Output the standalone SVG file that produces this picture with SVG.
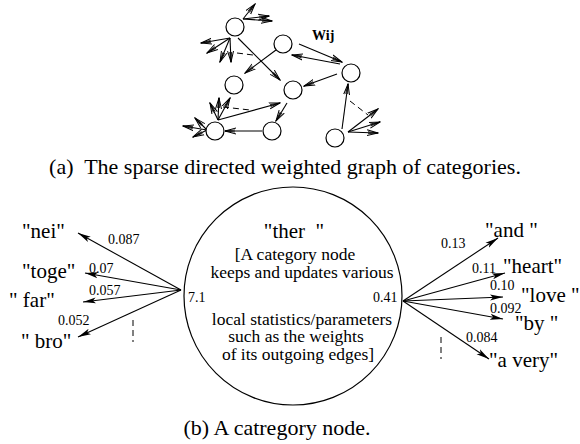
<svg xmlns="http://www.w3.org/2000/svg" width="580" height="444" viewBox="0 0 580 444" font-family="'Liberation Serif', 'DejaVu Serif', serif">
  <style>
    .t { font-family: "Liberation Serif", "DejaVu Serif", serif; fill: #000; }
    .node { fill: #fff; stroke: #000; stroke-width: 1.2; }
    .tedge { stroke: #000; stroke-width: 1.1; fill: none; marker-end: url(#openHead); }
    .bedge { stroke: #000; stroke-width: 1.1; fill: none; marker-end: url(#solidHead); }
    .dash { stroke: #000; stroke-width: 1; stroke-dasharray: 6 4; fill: none; }
    .cap { font-size: 22px; }
    .word { font-size: 21px; white-space: pre; }
    .inner { font-size: 17.5px; text-anchor: middle; }
    .wt { font-size: 14px; }
  </style>
  <defs>
    <marker id="openHead" viewBox="0 0 12 8" refX="11" refY="4" markerWidth="12" markerHeight="8" markerUnits="userSpaceOnUse" orient="auto">
      <path d="M0,1 L11,4 L0,7" fill="none" stroke="#000" stroke-width="1"/>
      <path d="M1,3 L11,4 L1,5" fill="none" stroke="#000" stroke-width="0.8"/>
    </marker>
    <marker id="solidHead" viewBox="0 0 14 8" refX="13" refY="4" markerWidth="14" markerHeight="8" markerUnits="userSpaceOnUse" orient="auto">
      <path d="M0,1 L13,4 L0,7 L3,4 z" fill="#000"/>
    </marker>
  </defs>

  <!-- (a) sparse directed weighted graph -->
  <g id="graph-edges">
    <!-- node A fan-out -->
    <line class="tedge" x1="243" y1="19" x2="255" y2="4"/>
    <line class="tedge" x1="243" y1="19" x2="269" y2="16"/>
    <line class="tedge" x1="243" y1="19" x2="272" y2="21"/>
    <line class="tedge" x1="230" y1="38" x2="201" y2="43"/>
    <line class="tedge" x1="230" y1="38" x2="207" y2="53"/>
    <line class="tedge" x1="230" y1="38" x2="220" y2="62"/>
    <line class="tedge" x1="230" y1="38" x2="231" y2="62"/>
    <line class="dash" x1="237" y1="53" x2="253" y2="55"/>
    <line class="tedge" x1="238" y1="38" x2="280" y2="80"/>
    <!-- B to D -->
    <line class="tedge" x1="276" y1="50" x2="245" y2="73"/>
    <!-- B and C, both directions -->
    <line class="tedge" x1="299" y1="44" x2="342" y2="62"/>
    <line class="tedge" x1="340" y1="64" x2="292" y2="55"/>
    <!-- C to E -->
    <line class="tedge" x1="337" y1="74" x2="304" y2="86"/>
    <!-- E to G -->
    <line class="tedge" x1="287" y1="103" x2="276" y2="121"/>
    <!-- G to F -->
    <line class="tedge" x1="262" y1="131" x2="225" y2="131"/>
    <!-- node F fan-out -->
    <line class="tedge" x1="218" y1="120" x2="280" y2="103"/>
    <line class="tedge" x1="218" y1="120" x2="219" y2="98"/>
    <line class="tedge" x1="218" y1="120" x2="210" y2="103"/>
    <line class="tedge" x1="218" y1="120" x2="230" y2="98"/>
    <line class="dash" x1="223" y1="107" x2="250" y2="110"/>
    <line class="tedge" x1="207" y1="130" x2="183" y2="126"/>
    <line class="tedge" x1="207" y1="130" x2="195" y2="118"/>
    <line class="tedge" x1="207" y1="130" x2="193" y2="137"/>
    <!-- H to C and fan-out -->
    <line class="tedge" x1="342" y1="129" x2="348" y2="84"/>
    <line class="tedge" x1="348" y1="132" x2="378" y2="109"/>
    <line class="tedge" x1="348" y1="132" x2="380" y2="122"/>
    <line class="tedge" x1="348" y1="132" x2="378" y2="133"/>
    <line class="dash" x1="350" y1="101" x2="368" y2="115"/>
  </g>
  <g id="graph-node-a"><circle class="node" cx="235" cy="27" r="9"/></g>
  <g id="graph-node-b"><circle class="node" cx="283" cy="44" r="9"/></g>
  <g id="graph-node-c"><circle class="node" cx="351" cy="73" r="9"/></g>
  <g id="graph-node-d"><circle class="node" cx="234" cy="85" r="9"/></g>
  <g id="graph-node-e"><circle class="node" cx="293" cy="90" r="9"/></g>
  <g id="graph-node-f"><circle class="node" cx="215" cy="131" r="9"/></g>
  <g id="graph-node-g"><circle class="node" cx="272" cy="131" r="9"/></g>
  <g id="graph-node-h"><circle class="node" cx="335" cy="138" r="9"/></g>
  <text class="t" x="312" y="40" font-size="14" font-weight="bold">Wij</text>

  <text class="t cap" x="285" y="174" text-anchor="middle" xml:space="preserve">(a)  The sparse directed weighted graph of categories.</text>

  <!-- (b) a single category node with its outgoing edges -->
  <g id="category-node">
    <circle class="node" cx="293" cy="296" r="109"/>
    <text class="t word" x="294" y="238" text-anchor="middle" xml:space="preserve">"ther  "</text>
    <text class="t inner" x="295" y="260">[A category node</text>
    <text class="t inner" x="302" y="278">keeps and updates various</text>
    <text class="t wt" x="188" y="302">7.1</text>
    <text class="t wt" x="373" y="302">0.41</text>
    <text class="t inner" x="302" y="325">local statistics/parameters</text>
    <text class="t inner" x="296" y="342">such as the weights</text>
    <text class="t inner" x="298" y="360">of its outgoing edges]</text>
  </g>

  <g id="node-edges">
    <line class="bedge" x1="181" y1="290" x2="78" y2="233"/>
    <line class="bedge" x1="181" y1="290" x2="85" y2="273"/>
    <line class="bedge" x1="181" y1="290" x2="83" y2="302"/>
    <line class="bedge" x1="181" y1="290" x2="78" y2="337"/>
    <line class="dash" x1="133" y1="320" x2="133" y2="342" stroke-dasharray="5 5"/>
    <line class="bedge" x1="403" y1="301" x2="498" y2="238"/>
    <line class="bedge" x1="403" y1="301" x2="505" y2="273"/>
    <line class="bedge" x1="403" y1="301" x2="503" y2="297"/>
    <line class="bedge" x1="403" y1="301" x2="503" y2="319"/>
    <line class="bedge" x1="403" y1="301" x2="489" y2="359"/>
    <line class="dash" x1="441" y1="337" x2="441" y2="359" stroke-dasharray="5 5"/>
  </g>

  <g id="left-words">
    <text class="t word" x="22" y="238">"nei"</text>
    <text class="t word" x="22" y="278">"toge"</text>
    <text class="t word" x="9" y="307" xml:space="preserve">" far"</text>
    <text class="t word" x="21" y="348" xml:space="preserve">" bro"</text>
    <text class="t wt" x="108" y="244">0.087</text>
    <text class="t wt" x="89" y="273">0.07</text>
    <text class="t wt" x="89" y="295">0.057</text>
    <text class="t wt" x="58" y="325">0.052</text>
  </g>

  <g id="right-words">
    <text class="t word" x="485" y="237" xml:space="preserve">"and "</text>
    <text class="t word" x="503" y="273">"heart"</text>
    <text class="t word" x="521" y="302" xml:space="preserve">"love "</text>
    <text class="t word" x="515" y="330" xml:space="preserve">"by "</text>
    <text class="t word" x="489" y="367">"a very"</text>
    <text class="t wt" x="441" y="248">0.13</text>
    <text class="t wt" x="472" y="273">0.11</text>
    <text class="t wt" x="490" y="290">0.10</text>
    <text class="t wt" x="490" y="313">0.092</text>
    <text class="t wt" x="466" y="342">0.084</text>
  </g>

  <text class="t cap" x="277" y="435" text-anchor="middle">(b) A catregory node.</text>
</svg>
